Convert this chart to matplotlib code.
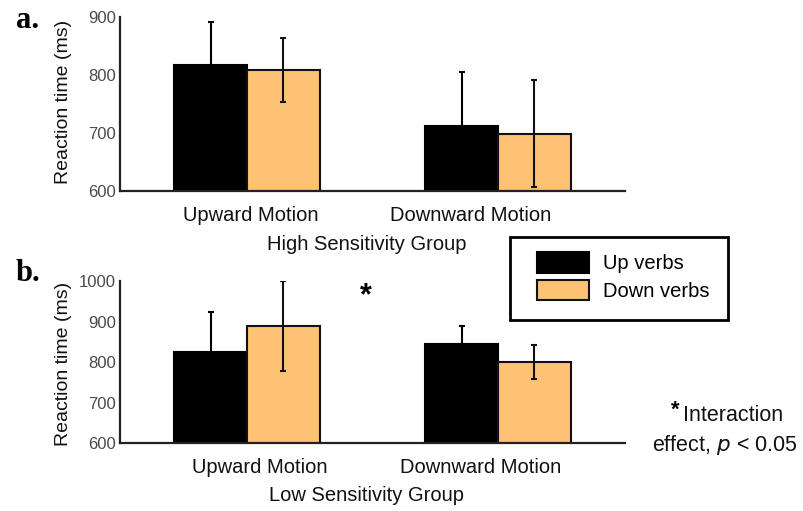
import numpy as np
import matplotlib
matplotlib.use("Agg")
import matplotlib.pyplot as plt
from matplotlib.patches import Patch, Rectangle

# data (ms)
groups = ["Upward Motion", "Downward Motion"]
series = ["Up verbs", "Down verbs"]
high_up = [818, 712]
high_down = [808, 699]
high_up_err = [74, 94]
high_down_err = [55, 92]
low_up = [825, 844]
low_down = [889, 800]
low_up_err = [99, 44]
low_down_err = [110, 42]

black = "#000000"
orange = "#FDC272"
W, H = 804, 511
fs = 14.5

plt.rcParams['font.family'] = ['Liberation Sans', 'DejaVu Sans']
fig = plt.figure(figsize=(W / 100, H / 100), dpi=100)

def px_axes(x0, y0, x1, y1):
    # pixel box (top-left origin) -> figure fractions
    return fig.add_axes([x0 / W, 1 - y1 / H, (x1 - x0) / W, (y1 - y0) / H])

def panel(ax, up, down, up_err, down_err, ylim, yticks, label_shift):
    x = np.arange(len(groups))
    w = 0.29
    ax.bar(x - w / 2, up, w, color=black, edgecolor=black, linewidth=1.5, zorder=2)
    ax.bar(x + w / 2, down, w, color=orange, edgecolor="#111111", linewidth=1.5, zorder=2)
    ax.errorbar(x - w / 2, up, yerr=up_err, fmt="none", ecolor=black,
                elinewidth=1.5, capsize=2, capthick=1.5, zorder=3)
    ax.errorbar(x + w / 2, down, yerr=down_err, fmt="none", ecolor="#111111",
                elinewidth=1.5, capsize=2, capthick=1.5, zorder=3)
    ax.set_xlim(-0.506, 1.506)
    ax.set_ylim(*ylim)
    ax.set_yticks(yticks)
    ax.set_yticklabels([str(t) for t in yticks], fontsize=12, color="#4a4a4a")
    ax.set_xticks(x + np.array(label_shift))
    ax.set_xticklabels(groups, fontsize=fs, color="#111111")
    ax.tick_params(axis="both", length=0)
    ax.tick_params(axis="x", pad=11)
    ax.tick_params(axis="y", pad=3)
    for s in ["top", "right"]:
        ax.spines[s].set_visible(False)
    for s in ["left", "bottom"]:
        ax.spines[s].set_linewidth(1.6)
        ax.spines[s].set_color("#222222")
    ax.patch.set_alpha(0)

ax1 = px_axes(120, 17, 625, 191)
panel(ax1, high_up, high_down, high_up_err, high_down_err, (600, 900),
      [600, 700, 800, 900], [0.016, -0.11])
ax2 = px_axes(120, 281, 625, 443)
panel(ax2, low_up, low_down, low_up_err, low_down_err, (600, 1000),
      [600, 700, 800, 900, 1000], [0.05, -0.07])

def ftext(px, py, s, **kw):
    fig.text(px / W, 1 - py / H, s, **kw)

ftext(64, 102, "Reaction time (ms)", fontsize=14, rotation=90, ha="center", va="center", color="#111111")
ftext(64, 364, "Reaction time (ms)", fontsize=14, rotation=90, ha="center", va="center", color="#111111")
ftext(367, 245, "High Sensitivity Group", fontsize=fs, ha="center", va="center", color="#111111")
ftext(367, 495, "Low Sensitivity Group", fontsize=fs, ha="center", va="center", color="#111111")
ftext(16, 20, "a.", fontsize=22, fontweight="bold", family="Liberation Serif", ha="left", va="center")
ftext(16, 273, "b.", fontsize=22, fontweight="bold", family="Liberation Serif", ha="left", va="center")
ftext(366, 296, "*", fontsize=22, fontweight="bold", ha="center", va="center")
ftext(675, 410, "*", fontsize=16, fontweight="bold", ha="center", va="center")
ftext(733, 415, "Interaction", fontsize=15.5, ha="center", va="center", color="#111111")
ftext(725, 445, "effect, $\\it{p}$ < 0.05", fontsize=15.5, ha="center", va="center", color="#111111")

# legend: entries without frame, box drawn separately to match the offset padding
handles = [Patch(facecolor=black, edgecolor=black, linewidth=1.5),
           Patch(facecolor=orange, edgecolor="#111111", linewidth=1.5)]
leg = fig.legend(handles, series, loc="upper left", bbox_to_anchor=(537 / W, 1 - 252 / H),
                 fontsize=fs, frameon=False, handlelength=2.6, handleheight=1.2,
                 handletextpad=0.7, labelspacing=0.32, borderpad=0, borderaxespad=0)
fig.patches.append(Rectangle((510 / W, 1 - 320 / H), 218 / W, 83 / H, transform=fig.transFigure,
                             fill=False, edgecolor="black", linewidth=2))

fig.savefig("out.png", dpi=100)
